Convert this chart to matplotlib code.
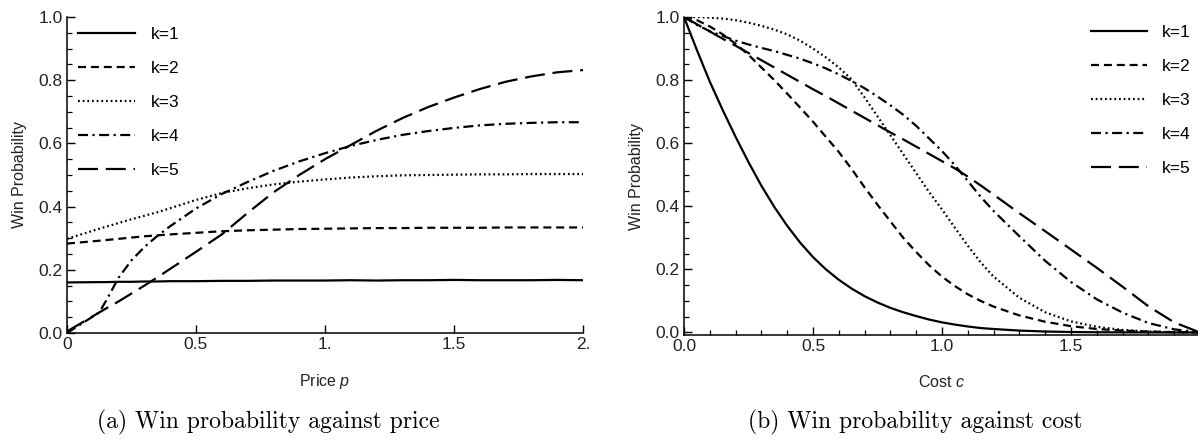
import numpy as np
import matplotlib
matplotlib.use("Agg")
import matplotlib.pyplot as plt
from matplotlib.ticker import MultipleLocator

plt.rcParams['font.family'] = ['Liberation Sans', 'DejaVu Sans']
plt.rcParams['mathtext.fontset'] = 'custom'
plt.rcParams['mathtext.it'] = 'Liberation Sans:italic'
plt.rcParams['mathtext.rm'] = 'Liberation Sans'

labels = ["k=1", "k=2", "k=3", "k=4", "k=5"]

# (a) win probability against price p
price = [0, 0.125, 0.15, 0.2, 0.25, 0.3, 0.35, 0.4, 0.5, 0.6, 0.7, 0.8,
         0.9, 1.0, 1.1, 1.2, 1.3, 1.4, 1.5, 1.6, 1.7, 1.8, 1.9, 2.0]
win_p_k1 = [0.160, 0.161, 0.161, 0.162, 0.162, 0.163, 0.163, 0.164, 0.164, 0.165, 0.165, 0.166,
            0.166, 0.166, 0.167, 0.166, 0.167, 0.167, 0.168, 0.167, 0.167, 0.167, 0.168, 0.167]
win_p_k2 = [0.283, 0.292, 0.294, 0.298, 0.302, 0.306, 0.309, 0.312, 0.317, 0.322, 0.325, 0.327,
            0.329, 0.330, 0.331, 0.332, 0.332, 0.333, 0.333, 0.333, 0.334, 0.334, 0.334, 0.334]
win_p_k3 = [0.298, 0.330, 0.336, 0.348, 0.360, 0.371, 0.382, 0.395, 0.421, 0.443, 0.458, 0.470,
            0.479, 0.486, 0.492, 0.496, 0.499, 0.500, 0.501, 0.502, 0.502, 0.503, 0.503, 0.503]
win_p_k4 = [0.0, 0.065, 0.100, 0.175, 0.230, 0.272, 0.307, 0.338, 0.394, 0.440, 0.478, 0.513,
            0.543, 0.569, 0.592, 0.611, 0.627, 0.639, 0.649, 0.657, 0.662, 0.665, 0.667, 0.667]
win_p_k5 = [0.005, 0.065, 0.077, 0.100, 0.125, 0.150, 0.176, 0.203, 0.257, 0.312, 0.380, 0.445,
            0.500, 0.550, 0.595, 0.640, 0.680, 0.715, 0.745, 0.772, 0.795, 0.812, 0.825, 0.832]

# (b) win probability against cost c
cost = [0, 0.05, 0.1, 0.15, 0.2, 0.25, 0.3, 0.35, 0.4, 0.45, 0.5, 0.55, 0.6, 0.65, 0.7, 0.75,
        0.8, 0.85, 0.9, 0.95, 1.0, 1.05, 1.1, 1.15, 1.2, 1.3, 1.4, 1.5, 1.6, 1.7, 1.8, 1.9, 2.0]
win_c_k1 = [1.0, 0.895, 0.795, 0.705, 0.62, 0.54, 0.465, 0.398, 0.338, 0.285, 0.239, 0.2, 0.167,
            0.139, 0.115, 0.095, 0.078, 0.064, 0.052, 0.041, 0.032, 0.025, 0.019, 0.014, 0.011,
            0.006, 0.003, 0.0015, 0.0007, 0.0003, 0.0001, 0.0, 0.0]
win_c_k2 = [1.0, 0.99, 0.97, 0.945, 0.915, 0.88, 0.84, 0.8, 0.757, 0.713, 0.668, 0.62, 0.572,
            0.518, 0.46, 0.405, 0.352, 0.3, 0.255, 0.213, 0.177, 0.147, 0.121, 0.1, 0.082,
            0.054, 0.034, 0.02, 0.011, 0.006, 0.003, 0.001, 0.0]
win_c_k3 = [1.0, 1.0, 0.998, 0.995, 0.99, 0.982, 0.972, 0.96, 0.945, 0.925, 0.9, 0.872, 0.84,
            0.802, 0.745, 0.685, 0.625, 0.565, 0.505, 0.445, 0.39, 0.332, 0.275, 0.222, 0.177,
            0.11, 0.064, 0.035, 0.018, 0.008, 0.003, 0.001, 0.0]
win_c_k4 = [1.0, 0.975, 0.955, 0.94, 0.925, 0.913, 0.902, 0.892, 0.88, 0.868, 0.853, 0.837, 0.818,
            0.797, 0.774, 0.748, 0.72, 0.69, 0.655, 0.615, 0.575, 0.53, 0.48, 0.43, 0.385,
            0.305, 0.227, 0.16, 0.105, 0.063, 0.03, 0.01, 0.0]
win_c_k5 = [1.0, 0.977, 0.954, 0.931, 0.909, 0.886, 0.863, 0.84, 0.817, 0.794, 0.771, 0.749, 0.726,
            0.703, 0.68, 0.657, 0.634, 0.612, 0.589, 0.566, 0.543, 0.52, 0.494, 0.466, 0.437,
            0.378, 0.321, 0.263, 0.205, 0.145, 0.083, 0.032, 0.0]

styles = [
    dict(linestyle='-'),
    dict(linestyle=(0, (3.6, 2.2))),
    dict(linestyle=(0, (0.8, 1.3))),
    dict(linestyle=(0, (4.5, 2.0, 1.0, 2.0))),
    dict(linestyle=(0, (9.0, 3.5))),
]

W, H = 1198, 442
fig = plt.figure(figsize=(W / 100, H / 100), dpi=100)

def frac(x0, y0, x1, y1):
    return [x0 / W, 1 - y1 / H, (x1 - x0) / W, (y1 - y0) / H]

ax1 = fig.add_axes(frac(67, 17, 583, 333))
ax2 = fig.add_axes(frac(684, 17, 1200, 335))

for ys, lab, st in zip([win_p_k1, win_p_k2, win_p_k3, win_p_k4, win_p_k5], labels, styles):
    ax1.plot(price, ys, color='black', lw=1.6, label=lab, **st)
for ys, lab, st in zip([win_c_k1, win_c_k2, win_c_k3, win_c_k4, win_c_k5], labels, styles):
    ax2.plot(cost, ys, color='black', lw=1.6, label=lab, **st)

ax1.set_xlim(0, 2)
ax1.set_ylim(0, 1)
ax1.set_xticks([0, 0.5, 1, 1.5, 2])
ax1.set_xticklabels(["0", "0.5", "1.", "1.5", "2."])
ax1.set_yticks([0, 0.2, 0.4, 0.6, 0.8, 1.0])
ax1.set_yticklabels(["0.0", "0.2", "0.4", "0.6", "0.8", "1.0"])
ax1.yaxis.set_minor_locator(MultipleLocator(0.05))

ax2.set_xlim(0, 2)
ax2.set_ylim(-0.008, 1)
ax2.set_xticks([0, 0.5, 1.0, 1.5])
ax2.set_xticklabels(["0.0", "0.5", "1.0", "1.5"])
ax2.set_yticks([0, 0.2, 0.4, 0.6, 0.8, 1.0])
ax2.set_yticklabels(["0.0", "0.2", "0.4", "0.6", "0.8", "1.0"])
ax2.xaxis.set_minor_locator(MultipleLocator(0.1))
ax2.yaxis.set_minor_locator(MultipleLocator(0.05))

for ax in (ax1, ax2):
    for s in ('top', 'right'):
        ax.spines[s].set_visible(False)
    for s in ('left', 'bottom'):
        ax.spines[s].set_linewidth(1.1)
    ax.tick_params(which='major', direction='in', length=6, width=1.0,
                   labelsize=12.5, colors='black', labelcolor='#222222', pad=3)
    ax.tick_params(which='minor', direction='in', length=3.5, width=0.9)
    ax.set_ylabel("Win Probability", fontsize=11.5, color='#222222', labelpad=8)

ax1.set_xlabel(r"Price $p$", fontsize=11.5, color='#222222', labelpad=14)
ax2.set_xlabel(r"Cost $c$", fontsize=11.5, color='#222222', labelpad=14)

ax1.legend(loc='upper left', bbox_to_anchor=(78 / W, 1 - 27 / H), bbox_transform=fig.transFigure,
           frameon=False, fontsize=12.5, handlelength=3.3, handletextpad=0.9,
           labelspacing=1.08, borderpad=0, borderaxespad=0)
ax2.legend(loc='upper left', bbox_to_anchor=(1091 / W, 1 - 25 / H), bbox_transform=fig.transFigure,
           frameon=False, fontsize=12.5, handlelength=3.2, handletextpad=0.9,
           labelspacing=1.08, borderpad=0, borderaxespad=0)

fig.text(268 / W, 1 - 422 / H, "(a) Win probability against price", family='cmr10',
         fontsize=17, ha='center', va='center')
fig.text(915 / W, 1 - 422 / H, "(b) Win probability against cost", family='cmr10',
         fontsize=17, ha='center', va='center')

fig.savefig("out.png", dpi=100)
